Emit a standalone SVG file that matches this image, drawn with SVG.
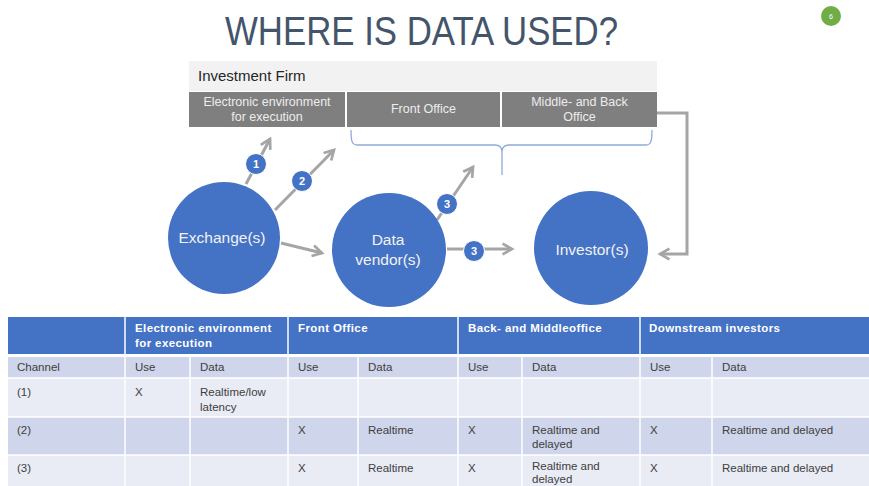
<svg xmlns="http://www.w3.org/2000/svg" width="869" height="486" viewBox="0 0 869 486">
<style>
text{font-family:"Liberation Sans",Arial,sans-serif}
.title{font-size:41px;fill:#44546a}
.firm{font-size:15px;fill:#262626}
.box{fill:#7f7f7f}
.boxt{font-size:12.5px;fill:#ededed;text-anchor:middle}
.node{fill:#4472c4}
.nodet{font-size:15.5px;fill:#f2f2f2;text-anchor:middle}
.conn{stroke:#a5a5a5;stroke-width:3;fill:none}
.badge{fill:#4472c4;stroke:#ffffff;stroke-width:1}
.badget{font-size:11px;font-weight:bold;fill:#ffffff;text-anchor:middle}
.th{font-size:11.5px;font-weight:bold;fill:#ffffff;letter-spacing:0.4px}
.td{font-size:11.5px;fill:#404040}
.sep{stroke:#ffffff;stroke-width:1.5}
</style>
<defs>
<marker id="arr" viewBox="0 0 10 10" refX="8" refY="5" markerWidth="4.5" markerHeight="4.5" orient="auto" markerUnits="strokeWidth">
<path d="M1,1 L8,5 L1,9" fill="none" stroke="#a5a5a5" stroke-width="2"/>
</marker>
</defs>
<rect width="869" height="486" fill="#ffffff"/>
<text class="title" x="225" y="45" textLength="393" lengthAdjust="spacingAndGlyphs">WHERE IS DATA USED?</text>
<g id="page-badge">
<circle cx="831" cy="16" r="10" fill="#70ad47"/>
<text x="831" y="19" font-size="7" fill="#ffffff" text-anchor="middle">6</text>
</g>
<g id="investment-firm">
<rect x="189" y="61" width="468" height="30" fill="#f2f2f2"/>
<text class="firm" x="198" y="81">Investment Firm</text>
</g>
<g id="electronic-env">
<rect class="box" x="189" y="92" width="156" height="35"/>
<text class="boxt" x="267" y="106">Electronic environment</text>
<text class="boxt" x="267" y="121">for execution</text>
</g>
<g id="front-office">
<rect class="box" x="347" y="92" width="153" height="35"/>
<text class="boxt" x="423.5" y="113">Front Office</text>
</g>
<g id="middle-back-office">
<rect class="box" x="502" y="92" width="155" height="35"/>
<text class="boxt" x="579.5" y="106">Middle- and Back</text>
<text class="boxt" x="579.5" y="121">Office</text>
</g>
<g id="brace">
<path d="M351,130 C351,141 352,145 357,145 L495,145 C499,145 502,147 502,152 L502,175 M502,152 C502,147 505,145 509,145 L646,145 C651,145 652,141 652,130" fill="none" stroke="#8faadc" stroke-width="1.3"/>
</g>
<g id="connectors">
<line class="conn" x1="246" y1="184" x2="270" y2="139" marker-end="url(#arr)"/>
<line class="conn" x1="275" y1="210" x2="334" y2="150" marker-end="url(#arr)"/>
<line class="conn" x1="281" y1="243" x2="322" y2="253" marker-end="url(#arr)"/>
<line class="conn" x1="437" y1="220" x2="473" y2="167" marker-end="url(#arr)"/>
<line class="conn" x1="447" y1="249" x2="512" y2="249" marker-end="url(#arr)"/>
<polyline class="conn" points="657,113 687,113 687,254 660,254" marker-end="url(#arr)"/>
</g>
<g id="exchange">
<circle class="node" cx="224" cy="238" r="56"/>
<text class="nodet" x="222" y="243">Exchange(s)</text>
</g>
<g id="data-vendor">
<circle class="node" cx="389" cy="250" r="57"/>
<text class="nodet" x="388" y="245">Data</text>
<text class="nodet" x="388" y="265">vendor(s)</text>
</g>
<g id="investor">
<circle class="node" cx="591" cy="248" r="57"/>
<text class="nodet" x="592" y="255">Investor(s)</text>
</g>
<g id="badges">
<circle class="badge" cx="256" cy="164" r="10.5"/><text class="badget" x="256" y="168">1</text>
<circle class="badge" cx="302" cy="181" r="10.5"/><text class="badget" x="302" y="185">2</text>
<circle class="badge" cx="447" cy="204" r="10.5"/><text class="badget" x="447" y="208">3</text>
<circle class="badge" cx="474" cy="251" r="10.5"/><text class="badget" x="474" y="255">3</text>
</g>
<g id="table">
<rect x="8" y="317" width="861" height="38" fill="#4472c4"/>
<rect x="8" y="356" width="861" height="22" fill="#cfd5ea"/>
<rect x="8" y="378" width="861" height="39" fill="#e9ebf5"/>
<rect x="8" y="417" width="861" height="38" fill="#cfd5ea"/>
<rect x="8" y="455" width="861" height="31" fill="#e9ebf5"/>
<g class="sep">
<line x1="125" y1="317" x2="125" y2="486"/>
<line x1="288" y1="317" x2="288" y2="486"/>
<line x1="458" y1="317" x2="458" y2="486"/>
<line x1="640" y1="317" x2="640" y2="486"/>
<line x1="190" y1="356" x2="190" y2="486"/>
<line x1="358" y1="356" x2="358" y2="486"/>
<line x1="522" y1="356" x2="522" y2="486"/>
<line x1="712" y1="356" x2="712" y2="486"/>
<line x1="8" y1="378" x2="869" y2="378"/>
<line x1="8" y1="417" x2="869" y2="417"/>
<line x1="8" y1="455" x2="869" y2="455"/>
</g>
<line x1="8" y1="355.5" x2="869" y2="355.5" stroke="#ffffff" stroke-width="3"/>
<text class="th" x="135" y="332">Electronic environment</text>
<text class="th" x="135" y="347">for execution</text>
<text class="th" x="298" y="332">Front Office</text>
<text class="th" x="468" y="332">Back- and Middleoffice</text>
<text class="th" x="649" y="332">Downstream investors</text>
<text class="td" x="17" y="371">Channel</text>
<text class="td" x="135" y="371">Use</text>
<text class="td" x="200" y="371">Data</text>
<text class="td" x="298" y="371">Use</text>
<text class="td" x="368" y="371">Data</text>
<text class="td" x="468" y="371">Use</text>
<text class="td" x="532" y="371">Data</text>
<text class="td" x="650" y="371">Use</text>
<text class="td" x="722" y="371">Data</text>
<text class="td" x="17" y="396">(1)</text>
<text class="td" x="135" y="396">X</text>
<text class="td" x="200" y="396">Realtime/low</text>
<text class="td" x="200" y="411">latency</text>
<text class="td" x="17" y="434">(2)</text>
<text class="td" x="298" y="434">X</text>
<text class="td" x="368" y="434">Realtime</text>
<text class="td" x="468" y="434">X</text>
<text class="td" x="532" y="434">Realtime and</text>
<text class="td" x="532" y="448">delayed</text>
<text class="td" x="650" y="434">X</text>
<text class="td" x="722" y="434">Realtime and delayed</text>
<text class="td" x="17" y="472">(3)</text>
<text class="td" x="298" y="472">X</text>
<text class="td" x="368" y="472">Realtime</text>
<text class="td" x="468" y="472">X</text>
<text class="td" x="532" y="470">Realtime and</text>
<text class="td" x="532" y="483">delayed</text>
<text class="td" x="650" y="472">X</text>
<text class="td" x="722" y="472">Realtime and delayed</text>
</g>
</svg>
